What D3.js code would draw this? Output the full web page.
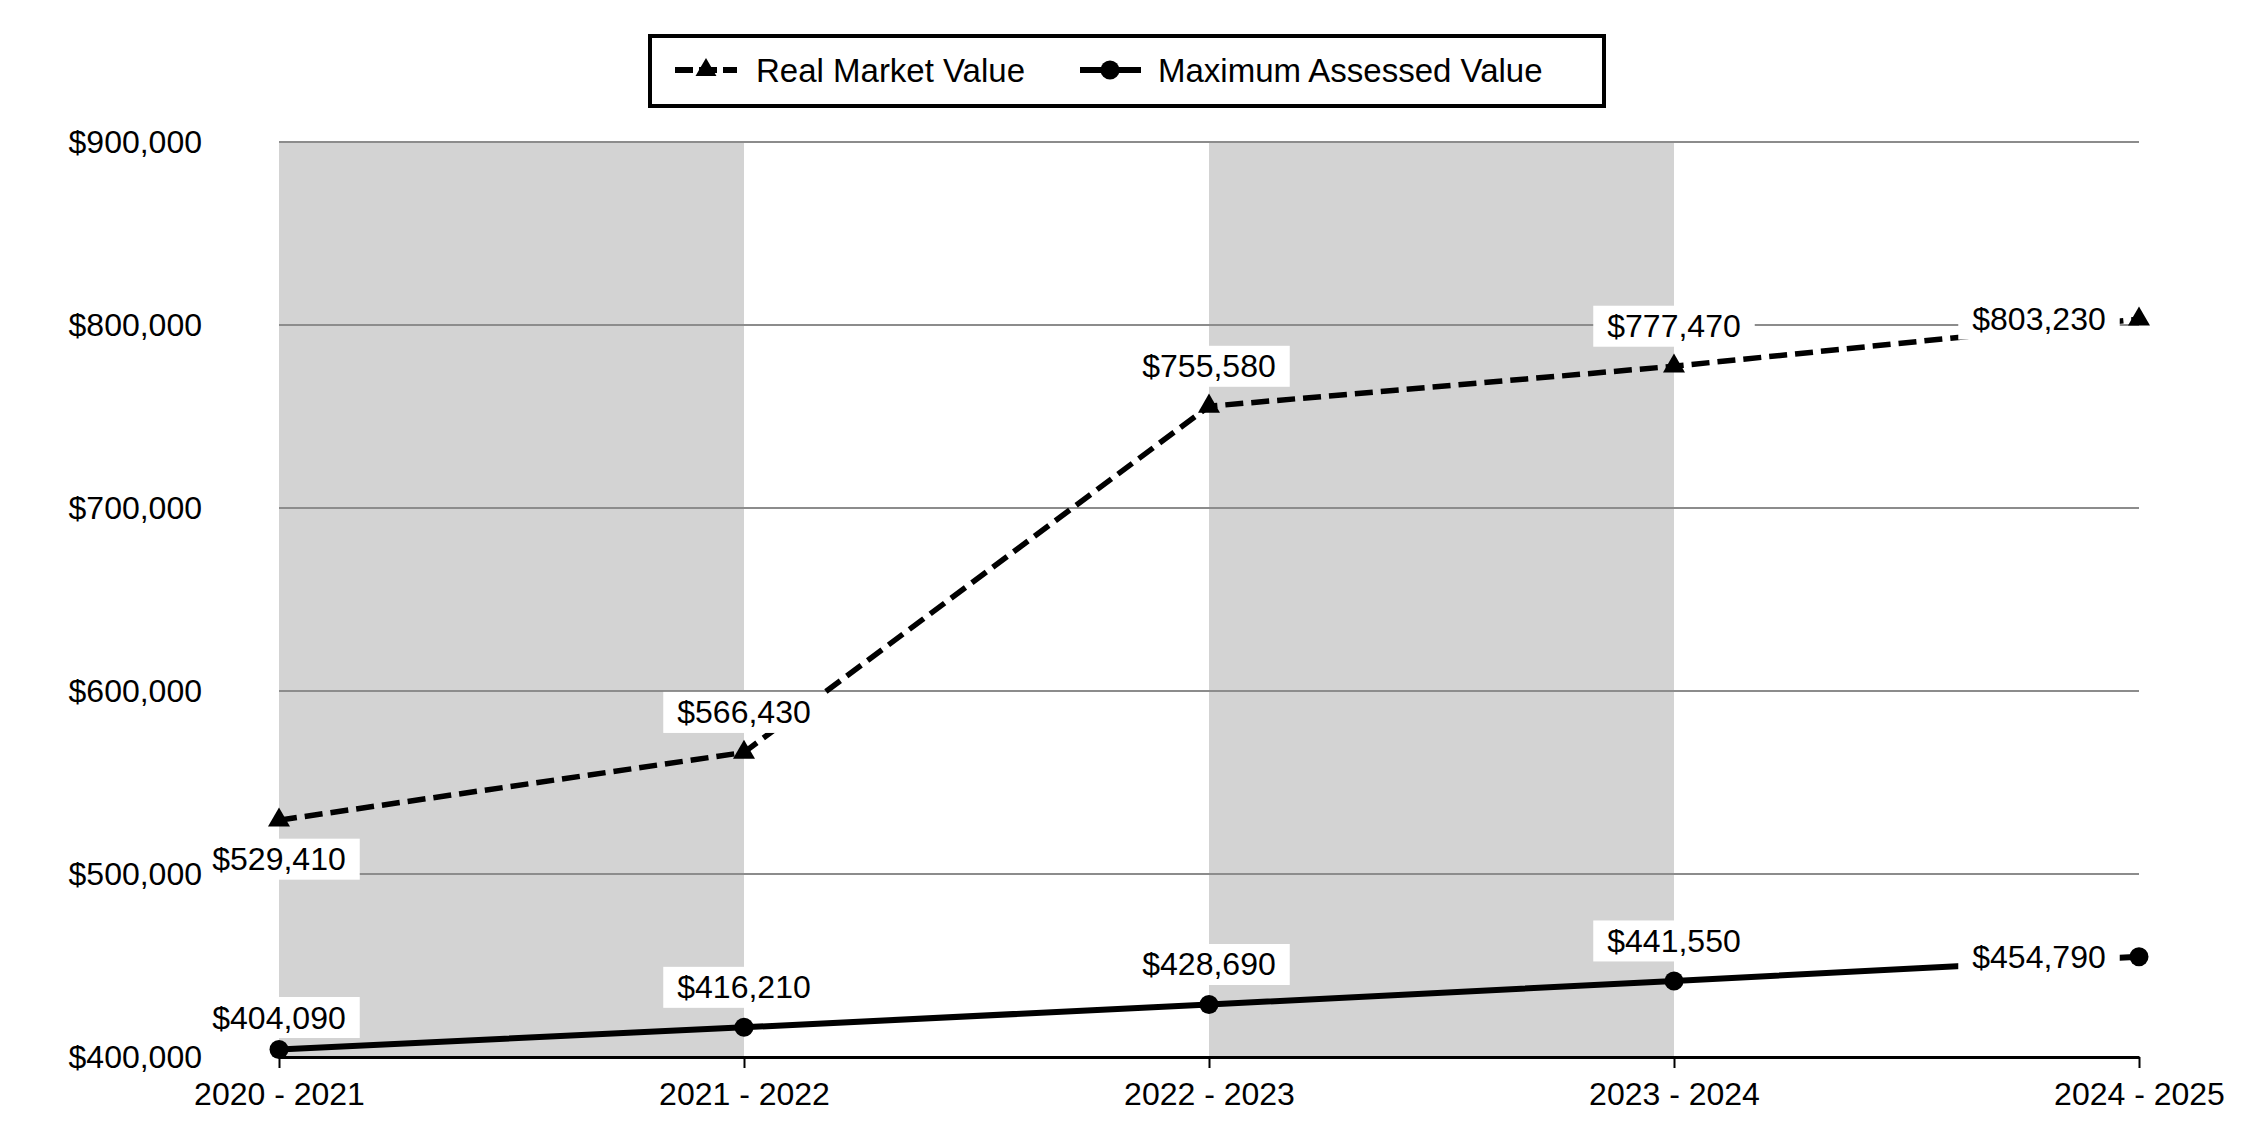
<!DOCTYPE html>
<html>
<head>
<meta charset="utf-8">
<script src="https://cdn.jsdelivr.net/npm/d3@7"></script>
<style>
  body { margin: 0; background: #fff; }
  text { font-family: "Liberation Sans", Arial, sans-serif; fill: #000; }
</style>
</head>
<body>
<div id="chart"></div>
<script>
const width = 2250;
const height = 1140;

// data
const years = ["2020 - 2021", "2021 - 2022", "2022 - 2023", "2023 - 2024", "2024 - 2025"];
const realMarket = [529410, 566430, 755580, 777470, 803230];
const maxAssessed = [404090, 416210, 428690, 441550, 454790];
const yTicks = [400000, 500000, 600000, 700000, 800000, 900000];

// where each value label sits relative to its point
const rmvPlace = ["below", "above", "above", "above", "left"];
const mavPlace = ["above", "above", "above", "above", "left"];

const margin = { top: 142, right: 111, bottom: 83, left: 279 };
const fontSize = 32;

const svg = d3.select("#chart")
    .append("svg")
    .attr("width", width)
    .attr("height", height);

const x = d3.scalePoint()
    .domain(years)
    .range([margin.left, width - margin.right]);

const y = d3.scaleLinear()
    .domain([400000, 900000])
    .range([height - margin.bottom, margin.top]);

const fmt = d3.format("$,");

// grey bands behind every other year
svg.append("g")
    .selectAll("rect")
    .data([0, 2])
    .enter().append("rect")
    .attr("x", i => x(years[i]))
    .attr("width", i => x(years[i + 1]) - x(years[i]))
    .attr("y", y(900000))
    .attr("height", y(400000) - y(900000))
    .attr("fill", "#d3d3d3");

// gridlines
svg.append("g")
    .selectAll("line")
    .data(yTicks.slice(1))
    .enter().append("line")
    .attr("x1", x.range()[0])
    .attr("x2", x.range()[1])
    .attr("y1", d => y(d))
    .attr("y2", d => y(d))
    .attr("stroke", "#8c8c8c")
    .attr("stroke-width", 2);

// x axis
const xAxis = svg.append("g")
    .attr("transform", `translate(0,${y(400000)})`)
    .call(d3.axisBottom(x).tickSize(11).tickSizeOuter(0).tickPadding(14));
xAxis.select(".domain").attr("stroke", "#000").attr("stroke-width", 3);
xAxis.selectAll(".tick line").attr("stroke", "#000").attr("stroke-width", 2);
xAxis.selectAll("text").attr("font-size", fontSize).attr("font-family", null);

// lines
const line = d3.line()
    .x((d, i) => x(years[i]))
    .y(d => y(d));

svg.append("path")
    .datum(realMarket)
    .attr("d", line)
    .attr("fill", "none")
    .attr("stroke", "#000")
    .attr("stroke-width", 5.5)
    .attr("stroke-dasharray", "18,8");

svg.append("path")
    .datum(maxAssessed)
    .attr("d", line)
    .attr("fill", "none")
    .attr("stroke", "#000")
    .attr("stroke-width", 6);

// value labels with white boxes
function addLabels(values, places) {
    const g = svg.append("g");
    values.forEach((v, i) => {
        const px = x(years[i]);
        const py = y(v);
        let cx = px, cy = py - 40;
        if (places[i] === "below") cy = py + 39;
        if (places[i] === "left") { cx = px - 100; cy = py; }
        if (i === 0 && places[i] === "above") cy = py - 32;

        const lg = g.append("g");
        const rect = lg.append("rect").attr("fill", "#fff");
        const t = lg.append("text")
            .attr("x", cx)
            .attr("y", cy)
            .attr("text-anchor", "middle")
            .attr("dominant-baseline", "central")
            .attr("font-size", fontSize)
            .text(fmt(v));
        const w = t.node().getComputedTextLength() + 28;
        rect.attr("x", cx - w / 2)
            .attr("y", cy - 20.5)
            .attr("width", w)
            .attr("height", 41);
    });
}
addLabels(realMarket, rmvPlace);
addLabels(maxAssessed, mavPlace);

// markers
svg.append("g")
    .selectAll("path")
    .data(realMarket)
    .enter().append("path")
    .attr("transform", (d, i) => `translate(${x(years[i])},${y(d)})`)
    .attr("d", d3.symbol().type(d3.symbolTriangle).size(210))
    .attr("fill", "#000");

svg.append("g")
    .selectAll("circle")
    .data(maxAssessed)
    .enter().append("circle")
    .attr("cx", (d, i) => x(years[i]))
    .attr("cy", d => y(d))
    .attr("r", 9.5)
    .attr("fill", "#000");

// y axis labels (on top so label boxes never hide them)
const yAxis = svg.append("g")
    .attr("transform", `translate(${margin.left},0)`)
    .call(d3.axisLeft(y).tickValues(yTicks).tickSize(0).tickPadding(77).tickFormat(fmt));
yAxis.select(".domain").remove();
yAxis.selectAll("text").attr("font-size", fontSize).attr("font-family", null);

// legend
const legend = svg.append("g");
legend.append("rect")
    .attr("x", 650)
    .attr("y", 36)
    .attr("width", 954)
    .attr("height", 70)
    .attr("fill", "#fff")
    .attr("stroke", "#000")
    .attr("stroke-width", 4);

const legendY = 70;
legend.append("line")
    .attr("x1", 675).attr("x2", 737)
    .attr("y1", legendY).attr("y2", legendY)
    .attr("stroke", "#000")
    .attr("stroke-width", 6)
    .attr("stroke-dasharray", "18,6");
legend.append("path")
    .attr("transform", `translate(706,${legendY})`)
    .attr("d", d3.symbol().type(d3.symbolTriangle).size(190))
    .attr("fill", "#000");
legend.append("text")
    .attr("x", 756)
    .attr("y", legendY)
    .attr("dominant-baseline", "central")
    .attr("font-size", 33)
    .text("Real Market Value");

legend.append("line")
    .attr("x1", 1080).attr("x2", 1141)
    .attr("y1", legendY).attr("y2", legendY)
    .attr("stroke", "#000")
    .attr("stroke-width", 6);
legend.append("circle")
    .attr("cx", 1110)
    .attr("cy", legendY)
    .attr("r", 9.5)
    .attr("fill", "#000");
legend.append("text")
    .attr("x", 1158)
    .attr("y", legendY)
    .attr("dominant-baseline", "central")
    .attr("font-size", 33)
    .text("Maximum Assessed Value");
</script>
</body>
</html>
